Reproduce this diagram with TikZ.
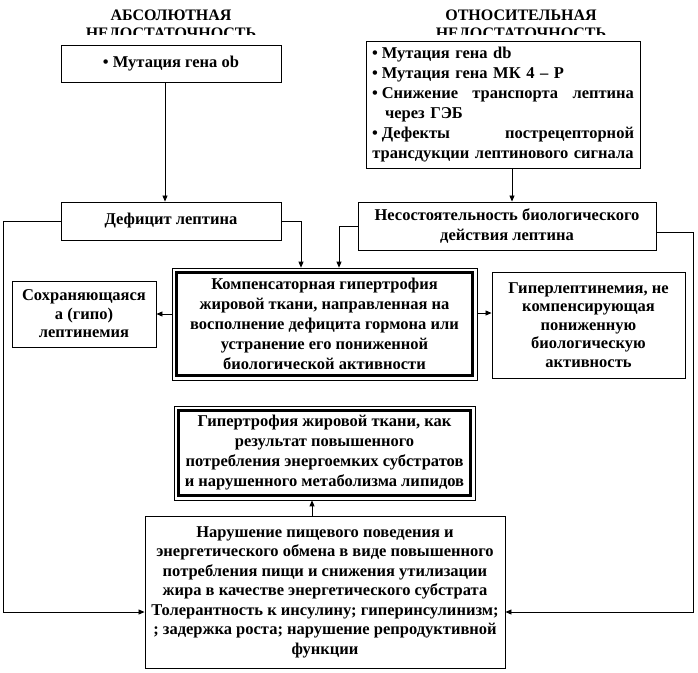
\documentclass[tikz,border=0pt]{standalone}
\usepackage{fontspec}
\setmainfont{Liberation Serif}
\usetikzlibrary{arrows.meta, positioning, calc}

\begin{document}
\begin{tikzpicture}[
    x=1pt, y=1pt,
    font=\fontsize{16.5}{20}\selectfont\bfseries,
    >={Triangle[length=6pt,width=5pt]},
    % Styles for the boxes and links
    header/.style={font=\fontsize{16}{18}\selectfont\bfseries, align=center},
    box/.style={draw, line width=0.9pt, fill=white, align=center, inner sep=2pt},
    framebox/.style={draw, line width=0.7pt, fill=white, align=center, inner sep=2pt},
    tight/.style={font=\fontsize{16.5}{18.5}\selectfont\bfseries},
    link/.style={->, line width=0.8pt},
    frameline/.style={line width=3pt}
]
\useasboundingbox (0,0) rectangle (698,-672);

% ----------------------------------------------------
% Column headers (lower line cut off as in the source)
% ----------------------------------------------------
\begin{scope}
\clip (0,0) rectangle (698,-34.5);
\node[header] (abshead) at (171,-25.5) {АБСОЛЮТНАЯ\\НЕДОСТАТОЧНОСТЬ};
\node[header] (relhead) at (521,-25.5) {ОТНОСИТЕЛЬНАЯ\\НЕДОСТАТОЧНОСТЬ};
\end{scope}

% ----------------------------------------------------
% Causes
% ----------------------------------------------------
\node[box, minimum width=220, minimum height=37] (mutob) at (171,-63.5) {\textbullet\ Мутация гена ob};

\node[box, align=left, text width=262pt, inner sep=6pt, minimum height=126] (mutrel) at (503,-105) {%
\textbullet\hspace{4pt}Мутация гена db\\
\textbullet\hspace{4pt}Мутация гена МК 4 – Р\\
\makebox[\hsize][l]{\textbullet\hspace{4pt}Снижение\hfill транспорта\hfill лептина}\\
\hspace*{13pt}через ГЭБ\\
\makebox[\hsize][l]{\textbullet\hspace{4pt}Дефекты\hfill пострецепторной}\\
\makebox[\hsize]{трансдукции лептинового сигнала}};

% ----------------------------------------------------
% Deficiency level
% ----------------------------------------------------
\node[box, minimum width=220, minimum height=38] (deficit) at (171,-221) {Дефицит лептина};
\node[box, minimum width=298, minimum height=48] (failure) at (507,-226) {Несостоятельность биологического\\действия лептина};

\draw[link] ([xshift=-6pt]mutob.south) -- ([xshift=-6pt]mutob.south |- deficit.north);
\draw[link] ([xshift=9pt]mutrel.south) -- ([xshift=9pt]mutrel.south |- failure.north);

% ----------------------------------------------------
% Compensation level
% ----------------------------------------------------
\node[framebox, minimum width=305, minimum height=112] (comp) at (324.5,-324) {Компенсаторная гипертрофия\\жировой ткани, направленная на\\восполнение дефицита гормона или\\устранение его пониженной\\биологической активности};
\draw[frameline] ([shift={(4.5,-4.5)}]comp.north west) rectangle ([shift={(-4.5,4.5)}]comp.south east);

\node[box, tight, minimum width=144, minimum height=66] (hypolep) at (84,-314) {Сохраняющаяся\\а (гипо)\\лептинемия};
\node[box, tight, minimum width=193, minimum height=106] (hyperlep) at (588.5,-325) {Гиперлептинемия, не\\компенсирующая\\пониженную\\биологическую\\активность};

\draw[link] (deficit.east) -| ([xshift=-23.5pt]comp.north);
\draw[link] (failure.west) -| ([xshift=14.5pt]comp.north);
\draw[link] (comp.west |- hypolep) -- (hypolep.east);
\draw[link] ([yshift=11pt]comp.east) -- ([yshift=11pt]comp.east -| hyperlep.west);

% ----------------------------------------------------
% Outcome level
% ----------------------------------------------------
\node[framebox, minimum width=301, minimum height=94] (hypertr) at (324.5,-453) {Гипертрофия жировой ткани, как\\результат повышенного\\потребления энергоемких субстратов\\и нарушенного метаболизма липидов};
\draw[frameline] ([shift={(4.5,-4.5)}]hypertr.north west) rectangle ([shift={(-4.5,4.5)}]hypertr.south east);

\node[box, font=\fontsize{16.5}{19.5}\selectfont\bfseries, minimum width=360, minimum height=152] (disorder) at (325,-592) {Нарушение пищевого поведения и\\энергетического обмена в виде повышенного\\потребления пищи и снижения утилизации\\жира в качестве энергетического субстрата\\Толерантность к инсулину; гиперинсулинизм;\\; задержка роста; нарушение репродуктивной\\функции};

\draw[link] ([xshift=-13pt]disorder.north) -- ([xshift=-13pt]disorder.north |- hypertr.south);

% Long side links
\coordinate (leftturn) at (3,-612);
\coordinate (rightturn) at (693,-612);
\draw[link] (deficit.west) -| (leftturn) -- (leftturn -| disorder.west);
\draw[link] ([yshift=-6pt]failure.east) -| (rightturn) -- (rightturn -| disorder.east);

\end{tikzpicture}
\end{document}
